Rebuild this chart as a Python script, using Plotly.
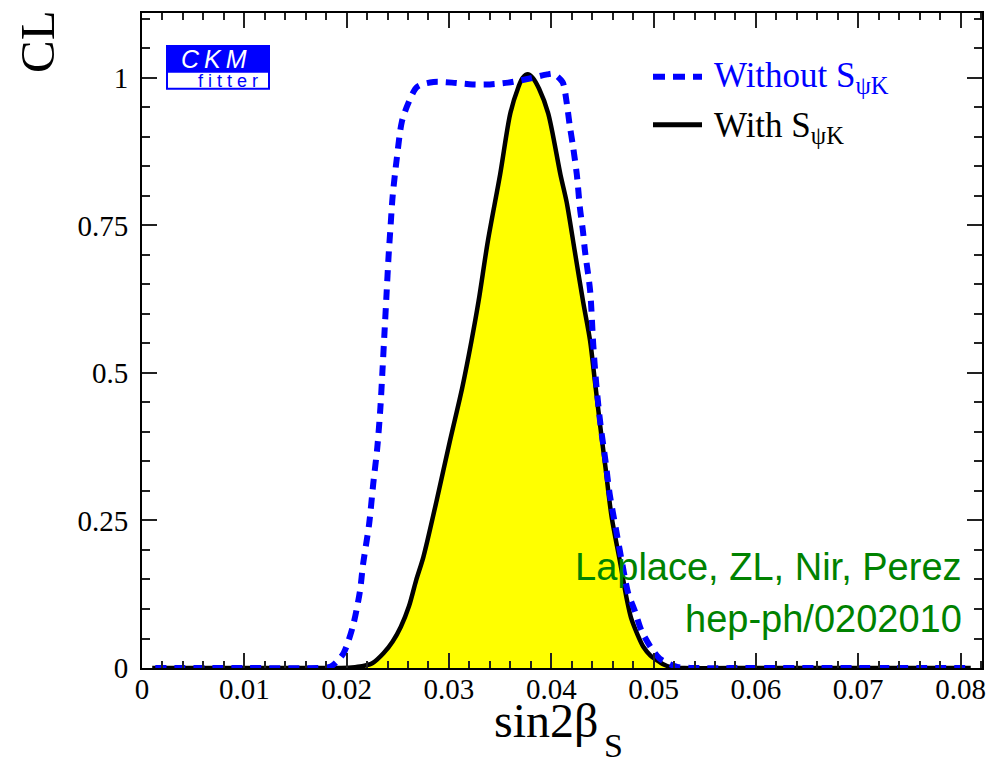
import plotly.graph_objects as go

# ---- data ----
with_x = [0.001, 0.010, 0.019, 0.0205, 0.0215, 0.0225, 0.0236, 0.0245, 0.0253, 0.0261,
          0.0268, 0.0275, 0.0288, 0.0301, 0.0313, 0.0322, 0.0329, 0.0338, 0.0350, 0.0360,
          0.0368, 0.0372, 0.0377, 0.0382, 0.0388, 0.0397, 0.0409, 0.0415, 0.0423, 0.0431,
          0.0438, 0.0443, 0.0448, 0.0453, 0.0459, 0.0467, 0.0474, 0.0478, 0.0484, 0.0490,
          0.0497, 0.0503, 0.0510, 0.0516, 0.053, 0.060, 0.070, 0.081]
with_y = [0, 0, 0, 0.001, 0.003, 0.008, 0.025, 0.045, 0.07, 0.105,
          0.149, 0.188, 0.284, 0.385, 0.475, 0.554, 0.622, 0.723, 0.836, 0.94,
          0.985, 1.0, 1.006, 1.0, 0.982, 0.94, 0.836, 0.79, 0.706, 0.622,
          0.554, 0.481, 0.408, 0.340, 0.256, 0.182, 0.115, 0.085, 0.058, 0.036,
          0.021, 0.0135, 0.006, 0.002, 0, 0, 0, 0]

without_x = [0.0013, 0.010, 0.0175, 0.0184, 0.0190, 0.0197, 0.0206, 0.0213, 0.0216, 0.0222,
             0.0226, 0.0230, 0.0233, 0.0235, 0.0237, 0.0239, 0.0241, 0.0243, 0.0245, 0.0249,
             0.0254, 0.0260, 0.0269, 0.0285, 0.0303, 0.0323, 0.0340, 0.0358, 0.0379, 0.0396,
             0.0402, 0.0411, 0.0415, 0.0418, 0.0421, 0.0425, 0.0428, 0.0431, 0.0433, 0.0438,
             0.0441, 0.0444, 0.0448, 0.0453, 0.0457, 0.0464, 0.0470, 0.0475, 0.0482, 0.0488,
             0.0497, 0.0506, 0.0523, 0.054, 0.060, 0.070, 0.0811]
without_y = [0, 0, 0, 0.002, 0.01, 0.025, 0.07, 0.13, 0.175, 0.244,
             0.312, 0.374, 0.441, 0.503, 0.568, 0.633, 0.698, 0.75, 0.80, 0.863,
             0.926, 0.956, 0.985, 0.993, 0.992, 0.989, 0.989, 0.992, 0.999, 1.006,
             1.007, 0.993, 0.959, 0.92, 0.887, 0.836, 0.78, 0.74, 0.706, 0.639,
             0.549, 0.481, 0.414, 0.351, 0.296, 0.228, 0.171, 0.128, 0.095, 0.064,
             0.036, 0.016, 0.002, 0, 0, 0, 0]

x_tickvals = [0, 0.01, 0.02, 0.03, 0.04, 0.05, 0.06, 0.07, 0.08]
x_ticktext = ["0", "0.01", "0.02", "0.03", "0.04", "0.05", "0.06", "0.07", "0.08"]
y_tickvals = [0, 0.25, 0.5, 0.75, 1]
y_ticktext = ["0", "0.25", "0.5", "0.75", "1"]

legend_without = "Without S<sub>ψK</sub>"
legend_with = "With S<sub>ψK</sub>"
credit_line1 = "Laplace, ZL, Nir, Perez"
credit_line2 = "hep-ph/0202010"
x_title_main = "sin2β"
x_title_sub = "S"
y_title = "CL"

# ---- geometry (page has an 8px body margin) ----
OFF = 8
W, H = 1004, 760
L, R, T, B = 142 - OFF, 982 - OFF, 11 - OFF, 668 - OFF
pw, ph = R - L, B - T


def px(x):
    return (x - OFF - L) / pw


def py(y):
    return (B - (y - OFF)) / ph


serif = "Liberation Serif, Times New Roman, serif"
sans = "Liberation Sans, Arial, sans-serif"
blue = "rgb(0,0,255)"
green = "rgb(0,130,0)"

fig = go.Figure()
fig.add_trace(go.Scatter(x=with_x, y=with_y, mode="lines", fill="tozeroy",
                         fillcolor="rgb(255,255,0)",
                         line=dict(color="black", width=4.5, shape="spline", smoothing=0.8),
                         showlegend=False, hoverinfo="skip"))
fig.add_trace(go.Scatter(x=without_x, y=without_y, mode="lines",
                         line=dict(color=blue, width=6, dash="11px,8px", shape="spline", smoothing=0.8),
                         showlegend=False, hoverinfo="skip"))

axis_common = dict(showline=True, linecolor="black", linewidth=2, mirror="ticks",
                   ticks="inside", ticklen=15, tickwidth=1.5, tickcolor="#222",
                   showgrid=False, zeroline=False,
                   tickfont=dict(family=serif, size=29, color="black"))

fig.update_xaxes(range=[0, 0.0821], tickvals=x_tickvals, ticktext=x_ticktext,
                 minor=dict(ticks="inside", dtick=0.002, tick0=0, ticklen=7, tickcolor="#222",
                            tickwidth=1.5, showgrid=False),
                 ticklabelstandoff=-6, **axis_common)
fig.update_yaxes(range=[0, 1.11], tickvals=y_tickvals, ticktext=y_ticktext,
                 minor=dict(ticks="inside", dtick=0.05, tick0=0, ticklen=8, tickcolor="#222",
                            tickwidth=1.5, showgrid=False),
                 ticklabelstandoff=6, **axis_common)

shapes = []
# legend samples
shapes.append(dict(type="line", xref="paper", yref="paper", x0=px(653), x1=px(702),
                   y0=py(75), y1=py(75), line=dict(color=blue, width=6, dash="12px,8px")))
shapes.append(dict(type="line", xref="paper", yref="paper", x0=px(653), x1=px(702),
                   y0=py(123), y1=py(123), line=dict(color="black", width=5)))
# CKM fitter logo
shapes.append(dict(type="rect", xref="paper", yref="paper", x0=px(167), x1=px(269),
                   y0=py(87), y1=py(44), line=dict(color=blue, width=2), fillcolor="white"))
shapes.append(dict(type="rect", xref="paper", yref="paper", x0=px(166), x1=px(270),
                   y0=py(71), y1=py(43), line=dict(width=0), fillcolor=blue))

annotations = [
    dict(text=y_title, xref="paper", yref="paper", x=px(38), y=py(40), textangle=-90,
         xanchor="center", yanchor="middle",
         showarrow=False, font=dict(family=serif, size=49, color="black")),
    dict(text=x_title_main, xref="paper", yref="paper", x=px(600), y=py(721),
         xanchor="right", yanchor="middle", showarrow=False,
         font=dict(family=serif, size=48, color="black")),
    dict(text=x_title_sub, xref="paper", yref="paper", x=px(602), y=py(746),
         xanchor="left", yanchor="middle", showarrow=False,
         font=dict(family=serif, size=34, color="black")),
    dict(text=legend_without, xref="paper", yref="paper", x=px(712), y=py(76),
         xanchor="left", yanchor="middle", showarrow=False,
         font=dict(family=serif, size=35, color=blue)),
    dict(text=legend_with, xref="paper", yref="paper", x=px(712), y=py(126),
         xanchor="left", yanchor="middle", showarrow=False,
         font=dict(family=serif, size=35, color="black")),
    dict(text="<i>C\u2009K\u2009M</i>", xref="paper", yref="paper", x=px(213.5), y=py(57),
         xanchor="center", yanchor="middle", showarrow=False,
         font=dict(family=sans, size=25, color="white")),
    dict(text="f i t t e r", xref="paper", yref="paper", x=px(228), y=py(79),
         xanchor="center", yanchor="middle", showarrow=False,
         font=dict(family=sans, size=18, color=blue)),
    dict(text=credit_line1, xref="paper", yref="paper", x=px(964), y=py(567),
         xanchor="right", yanchor="middle", showarrow=False,
         font=dict(family=sans, size=38, color=green)),
    dict(text=credit_line2, xref="paper", yref="paper", x=px(964), y=py(619),
         xanchor="right", yanchor="middle", showarrow=False,
         font=dict(family=sans, size=38, color=green)),
]

fig.update_layout(width=W, height=H, autosize=False,
                  margin=dict(l=L, r=W - R, t=T, b=H - B, pad=0),
                  paper_bgcolor="white", plot_bgcolor="white",
                  shapes=shapes, annotations=annotations, showlegend=False)

fig.write_html("out.html")
